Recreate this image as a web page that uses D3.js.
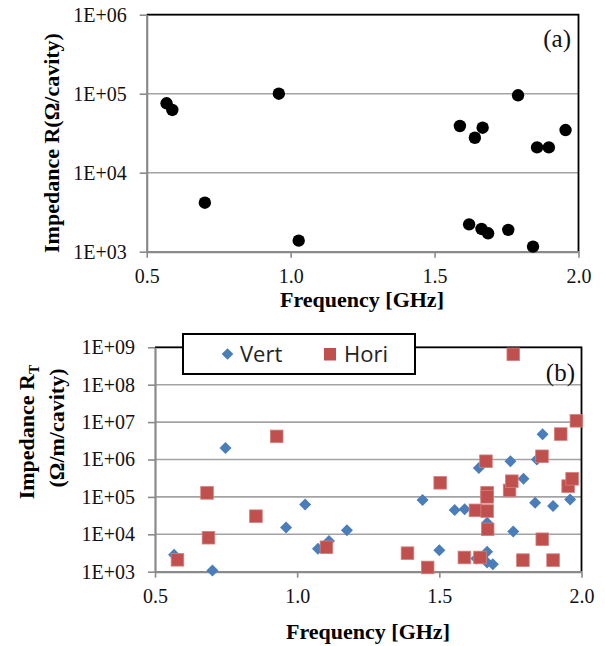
<!DOCTYPE html>
<html>
<head>
<meta charset="utf-8">
<script src="https://cdn.jsdelivr.net/npm/d3@7"></script>
<style>
  body { margin: 0; background: #fff; }
  .title { font-family: "Liberation Serif", "Times New Roman", serif; font-weight: bold; font-size: 22px; fill: #000; }
  .panel { font-family: "Liberation Serif", "Times New Roman", serif; font-size: 25px; fill: #111; }
  .legend text { font-family: "Open Sans", "Liberation Sans", sans-serif; font-size: 22px; fill: #222; }
</style>
</head>
<body>
<svg id="chart" width="605" height="646"></svg>
<script>
// panel (a): R per cavity
const topFreq = [0.569, 0.589, 0.702, 0.959, 1.028, 1.588, 1.640, 1.667, 1.790, 1.856, 1.897, 1.955, 1.620, 1.663, 1.686, 1.756, 1.842];
const topR = [75600, 62200, 4170, 100000, 1380, 39000, 27700, 37100, 95400, 20900, 20900, 34700, 2220, 1940, 1710, 1890, 1160];

// panel (b): transverse R
const vertFreq = [0.567, 0.702, 0.748, 0.961, 1.028, 1.073, 1.112, 1.175, 1.441, 1.500, 1.554, 1.589, 1.630, 1.639, 1.668, 1.668, 1.668, 1.688, 1.750, 1.760, 1.796, 1.837, 1.843, 1.863, 1.900, 1.960];
const vertR = [2850, 1070, 2030000, 15100, 62500, 4080, 6600, 12900, 82200, 3760, 44600, 46400, 2250, 597000, 20500, 3390, 1770, 1590, 898000, 11800, 304000, 69800, 1000000, 4700000, 56900, 85700];

const horiFreq = [0.579, 0.683, 0.688, 0.855, 0.928, 1.103, 1.388, 1.459, 1.503, 1.588, 1.627, 1.643, 1.664, 1.668, 1.668, 1.668, 1.670, 1.747, 1.755, 1.760, 1.794, 1.861, 1.862, 1.900, 1.927, 1.953, 1.967, 1.982];
const horiR = [2080, 128000, 8100, 30500, 4150000, 4500, 3130, 1300, 238000, 2400, 43700, 2400, 898000, 129000, 100000, 41900, 13600, 149000, 263000, 650000000, 2040, 1220000, 7380, 2040, 4790000, 194000, 304000, 10800000];

const xTicks = [0.5, 1.0, 1.5, 2.0];
const yTicksTop = [1e3, 1e4, 1e5, 1e6];
const yTicksBottom = [1e3, 1e4, 1e5, 1e6, 1e7, 1e8, 1e9];

const svg = d3.select('#chart');
svg.append('rect').attr('width', 605).attr('height', 646).attr('fill', '#fff');

const axisColor = '#8a8a8a';
const gridColor = '#a3a3a3';
const serif = '"Liberation Serif", "Times New Roman", serif';
const sciFormat = d => '1E+' + String(Math.round(Math.log10(d))).padStart(2, '0');

function drawPanel(x, y, yTicks) {
  const [x0, x1] = x.range();
  const [y0, y1] = y.range();
  const g = svg.append('g');

  g.selectAll('line.grid')
    .data(yTicks)
    .enter()
    .append('line')
    .attr('x1', x0).attr('x2', x1)
    .attr('y1', d => y(d)).attr('y2', d => y(d))
    .attr('stroke', gridColor)
    .attr('stroke-width', 1.6);

  // plot area border (top and right are black)
  g.append('path')
    .attr('d', `M${x0},${y1}H${x1}V${y0}`)
    .attr('fill', 'none')
    .attr('stroke', '#000')
    .attr('stroke-width', 1.8);

  const yAxis = g.append('g')
    .attr('transform', `translate(${x0},0)`)
    .call(d3.axisLeft(y).tickValues(yTicks).tickFormat(sciFormat)
      .tickSize(7).tickSizeOuter(0).tickPadding(13));

  const xAxis = g.append('g')
    .attr('transform', `translate(0,${y0})`)
    .call(d3.axisBottom(x).tickValues(xTicks).tickFormat(d3.format('.1f'))
      .tickSize(6).tickSizeOuter(0).tickPadding(11));

  [yAxis, xAxis].forEach(a => {
    a.select('.domain').attr('stroke', axisColor).attr('stroke-width', 2.2);
    a.selectAll('.tick line').attr('stroke', axisColor).attr('stroke-width', 1.6);
    a.selectAll('.tick text')
      .style('font-family', serif)
      .style('font-size', '20px')
      .style('fill', '#111');
  });
  return g;
}

// ---------- panel (a)
const xTop = d3.scaleLinear().domain([0.5, 2.0]).range([146.7, 578.5]);
const yTop = d3.scaleLog().domain([1e3, 1e6]).range([251.7, 14.7]);
const gTop = drawPanel(xTop, yTop, yTicksTop);

gTop.selectAll('circle')
  .data(d3.zip(topFreq, topR))
  .enter()
  .append('circle')
  .attr('cx', d => xTop(d[0]))
  .attr('cy', d => yTop(d[1]))
  .attr('r', 6.2)
  .attr('fill', '#000');

gTop.append('text').attr('class', 'panel')
  .attr('x', 571).attr('y', 47).attr('text-anchor', 'end').text('(a)');

gTop.append('text').attr('class', 'title')
  .attr('x', 362).attr('y', 307).attr('text-anchor', 'middle')
  .text('Frequency [GHz]');

gTop.append('text').attr('class', 'title')
  .attr('transform', 'translate(59,143) rotate(-90)')
  .attr('text-anchor', 'middle')
  .text('Impedance R(Ω/cavity)');

// ---------- panel (b)
const xBot = d3.scaleLinear().domain([0.5, 2.0]).range([155, 581.5]);
const yBot = d3.scaleLog().domain([1e3, 1e9]).range([571.7, 347.3]);
const gBot = drawPanel(xBot, yBot, yTicksBottom);

const diamond = d3.symbol().type(d3.symbolSquare).size(72);
gBot.selectAll('path.vert')
  .data(d3.zip(vertFreq, vertR))
  .enter()
  .append('path')
  .attr('class', 'vert')
  .attr('d', diamond)
  .attr('transform', d => `translate(${xBot(d[0])},${yBot(d[1])}) rotate(45)`)
  .attr('fill', '#4A7EBB');

gBot.selectAll('rect.hori')
  .data(d3.zip(horiFreq, horiR))
  .enter()
  .append('rect')
  .attr('class', 'hori')
  .attr('x', d => xBot(d[0]) - 6.3)
  .attr('y', d => yBot(d[1]) - 6.3)
  .attr('width', 12.6)
  .attr('height', 12.6)
  .attr('fill', '#C0504D')
  .attr('stroke', '#D47F7D')
  .attr('stroke-width', 0.8);

gBot.append('text').attr('class', 'panel')
  .attr('x', 575).attr('y', 381).attr('text-anchor', 'end').text('(b)');

gBot.append('text').attr('class', 'title')
  .attr('x', 368).attr('y', 639).attr('text-anchor', 'middle')
  .text('Frequency [GHz]');

const yTitle = gBot.append('text').attr('class', 'title')
  .attr('transform', 'translate(34,432) rotate(-90)')
  .attr('text-anchor', 'middle');
yTitle.append('tspan').text('Impedance R');
yTitle.append('tspan').attr('font-size', '14px').attr('dy', 5).text('T');

gBot.append('text').attr('class', 'title')
  .attr('transform', 'translate(64,428) rotate(-90)')
  .attr('text-anchor', 'middle')
  .text('(Ω/m/cavity)');

// legend
const legend = svg.append('g').attr('class', 'legend');
legend.append('rect')
  .attr('x', 183).attr('y', 334).attr('width', 232).attr('height', 40)
  .attr('fill', '#fff').attr('stroke', '#000').attr('stroke-width', 2);
legend.append('path')
  .attr('d', d3.symbol().type(d3.symbolSquare).size(68))
  .attr('transform', 'translate(227.5,354) rotate(45)')
  .attr('fill', '#4A7EBB');
legend.append('text').attr('x', 240).attr('y', 362).text('Vert');
legend.append('rect')
  .attr('x', 324).attr('y', 348).attr('width', 12).attr('height', 12.5)
  .attr('fill', '#C0504D');
legend.append('text').attr('x', 344).attr('y', 362).text('Hori');
</script>
</body>
</html>
